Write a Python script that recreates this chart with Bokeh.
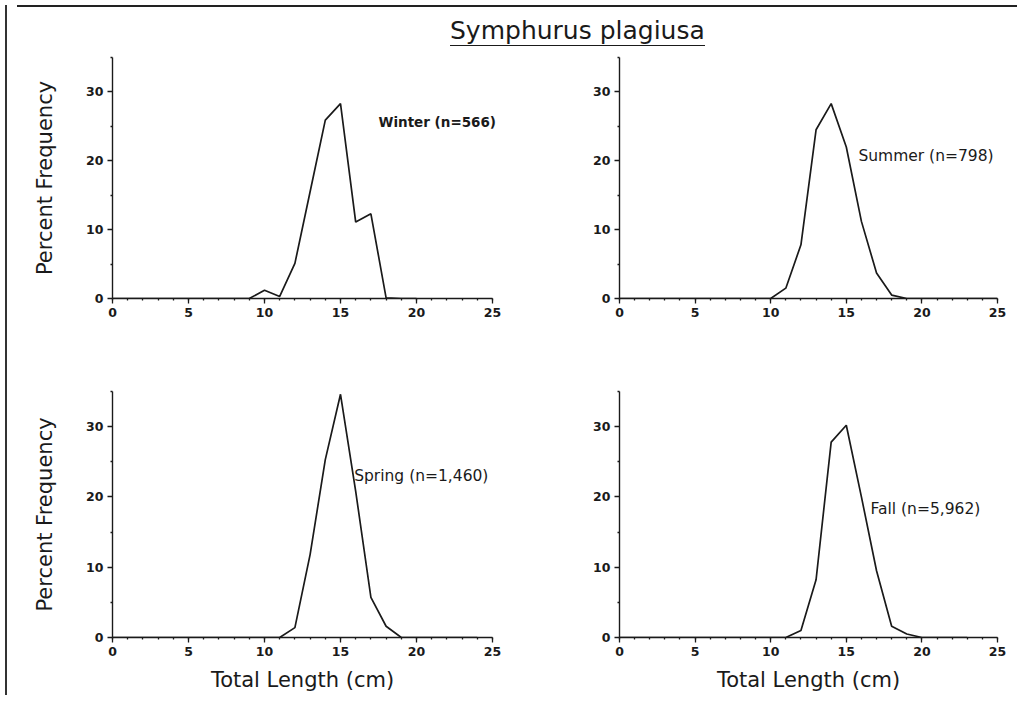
from bokeh.plotting import figure
from bokeh.models import Range1d, FixedTicker, Div, Label
from bokeh.layouts import row, column
from bokeh.embed import file_html
from bokeh.resources import INLINE

# ---------------- data ----------------
title_text = "Symphurus plagiusa"
x_axis_label = "Total Length (cm)"
y_axis_label = "Percent Frequency"
x_major_ticks = [0, 5, 10, 15, 20, 25]
x_minor_ticks = [0, 1, 2, 3, 4, 5, 6, 7, 8, 9, 10, 11, 12, 13, 14, 15, 16, 17, 18, 19, 20, 21, 22, 23, 24, 25]
y_major_ticks = [0, 10, 20, 30]
y_minor_ticks = [5, 15, 25, 35]

winter_len = [0, 1, 2, 3, 4, 5, 6, 7, 8, 9, 10, 11, 12, 13, 14, 15, 16, 17, 18, 19, 20]
winter_pct = [0, 0, 0, 0, 0, 0, 0, 0, 0, 0, 1.2, 0.3, 5.1, 15.5, 25.9, 28.3, 11.1, 12.3, 0.1, 0, 0]
winter_label = "Winter (n=566)"

summer_len = [0, 1, 2, 3, 4, 5, 6, 7, 8, 9, 10, 11, 12, 13, 14, 15, 16, 17, 18, 19, 20, 21, 22, 23, 24, 25]
summer_pct = [0, 0, 0, 0, 0, 0, 0, 0, 0, 0, 0, 1.5, 7.8, 24.5, 28.3, 22.0, 11.2, 3.7, 0.5, 0, 0, 0, 0, 0, 0, 0]
summer_label = "Summer (n=798)"

spring_len = [0, 1, 2, 3, 4, 5, 6, 7, 8, 9, 10, 11, 12, 13, 14, 15, 16, 17, 18, 19, 20, 21, 22, 23, 24]
spring_pct = [0, 0, 0, 0, 0, 0, 0, 0, 0, 0, 0, 0, 1.4, 11.8, 25.3, 34.6, 20.8, 5.7, 1.6, 0, 0, 0, 0, 0, 0]
spring_label = "Spring (n=1,460)"

fall_len = [0, 1, 2, 3, 4, 5, 6, 7, 8, 9, 10, 11, 12, 13, 14, 15, 16, 17, 18, 19, 20, 21, 22, 23]
fall_pct = [0, 0, 0, 0, 0, 0, 0, 0, 0, 0, 0, 0, 1.0, 8.2, 27.8, 30.2, 20.0, 9.5, 1.6, 0.5, 0, 0, 0, 0]
fall_label = "Fall (n=5,962)"

# label anchor positions (data units)
winter_pos = (17.5, 25.6)
summer_pos = (15.8, 20.7)
spring_pos = (15.9, 23.0)
fall_pos = (16.6, 18.3)

FONT = "DejaVu Sans"
INK = "#1a1a1a"


def make_panel(lengths, pct, label, pos, bold, left, bottom, width, height,
               b_left, b_right, b_top, b_bottom, extra_px=0):
    frame_w = width - b_left - b_right
    x_end = 25.0 * frame_w / (frame_w - extra_px)
    p = figure(width=width, height=height, output_backend="svg", toolbar_location=None,
               x_range=Range1d(0, x_end), y_range=Range1d(0, 35),
               min_border_left=b_left, min_border_right=b_right,
               min_border_top=b_top, min_border_bottom=b_bottom)
    p.outline_line_color = None
    p.xgrid.grid_line_color = None
    p.ygrid.grid_line_color = None
    p.background_fill_color = "white"
    p.border_fill_color = "white"

    p.line(lengths, pct, line_color=INK, line_width=1.7)

    p.add_layout(Label(x=pos[0], y=pos[1], text=label, text_font=FONT,
                       text_font_size="13.5px" if bold else "15.5px",
                       text_font_style="bold" if bold else "normal",
                       text_color=INK, text_baseline="middle", text_align="left"))

    for ax, major, minor in ((p.xaxis[0], x_major_ticks, x_minor_ticks),
                             (p.yaxis[0], y_major_ticks, y_minor_ticks)):
        ax.ticker = FixedTicker(ticks=major, minor_ticks=minor)
        ax.axis_line_color = INK
        ax.axis_line_width = 1.4
        ax.major_tick_line_color = INK
        ax.major_tick_line_width = 1.3
        ax.minor_tick_line_color = INK
        ax.minor_tick_line_width = 1.3
        ax.major_tick_out = 5
        ax.major_tick_in = 0
        ax.minor_tick_out = 2
        ax.minor_tick_in = 0
        ax.major_label_text_font = FONT
        ax.major_label_text_font_style = "bold"
        ax.major_label_text_font_size = "12.5px"
        ax.major_label_text_color = INK
        ax.axis_label_text_font = FONT
        ax.axis_label_text_font_style = "normal"
        ax.axis_label_text_font_size = "21px"
        ax.axis_label_text_color = INK

    p.xaxis.bounds = (0, 25)
    p.xaxis.major_label_standoff = 4
    p.yaxis.major_label_standoff = 4
    if left:
        p.yaxis.axis_label = y_axis_label
        p.yaxis.axis_label_standoff = 26
    if bottom:
        p.xaxis.axis_label = x_axis_label
        p.xaxis.axis_label_standoff = 9
    return p


# top row: frame 56..297 ; bottom row: frame 390..636 (page coords)
f_winter = make_panel(winter_len, winter_pct, winter_label, winter_pos, True, True, False,
                      520, 301, 100, 32, 7, 53, extra_px=8)
f_summer = make_panel(summer_len, summer_pct, summer_label, summer_pos, False, False, False,
                      480, 301, 87, 15, 7, 53)
f_spring = make_panel(spring_len, spring_pct, spring_label, spring_pos, False, True, True,
                      520, 343, 100, 40, 40, 56)
f_fall = make_panel(fall_len, fall_pct, fall_label, fall_pos, False, False, True,
                    480, 343, 87, 15, 40, 56)

title_div = Div(width=1000, height=40, text=(
    '<div style="position:relative;width:1000px;height:40px;">'
    '<div style="position:absolute;left:0;top:0;width:1000px;height:2px;background:#222;"></div>'
    '<div style="position:absolute;left:433px;top:12px;font-family:\'DejaVu Sans\';font-size:25px;'
    'line-height:28px;color:#1a1a1a;border-bottom:1.5px solid #1a1a1a;padding-bottom:0px;white-space:nowrap;">'
    + title_text + '</div></div>'))

left_rule = Div(width=2, height=690, text='<div style="width:2px;height:690px;background:#333;"></div>')

layout = row(left_rule, column(title_div, row(f_winter, f_summer), row(f_spring, f_fall)))

open("out.html", "w").write(file_html(layout, INLINE))
